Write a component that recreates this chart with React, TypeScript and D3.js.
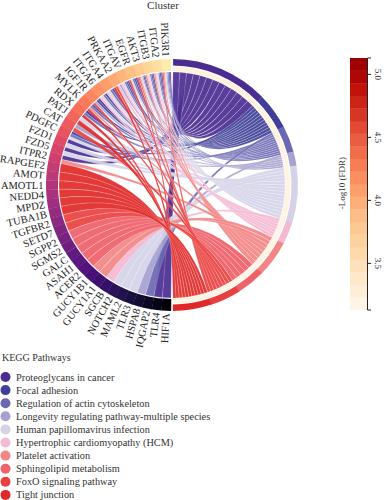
import React, { useEffect, useRef } from 'react';
import * as d3 from 'd3';

// genes, top of the circle going down the left side
const genes = [
  'PIK3R1', 'ITGA2', 'ITGB3', 'AKT3', 'EGFR', 'ITGAV', 'PRKAA2', 'ITGA4', 'ITGA6', 'IGF1R',
  'MYLK', 'RDX', 'PATJ', 'CAT', 'PDGFC', 'FZD1', 'FZD5', 'ITPR2', 'RAPGEF2', 'AMOT',
  'AMOTL1', 'NEDD4', 'MPDZ', 'TUBA1B', 'TGFBR2', 'SETD7', 'SGPP2', 'SGMS2', 'GALC', 'ASAH1',
  'ACER2', 'GUCY1B1', 'GUCY1A1', 'SGCB', 'NOTCH2', 'MAML2', 'TLR3', 'HSPA8', 'IQGAP2', 'TLR4',
  'HIF1A',
];

const pathways = [
  'Proteoglycans in cancer',
  'Focal adhesion',
  'Regulation of actin cytoskeleton',
  'Longevity regulating pathway-multiple species',
  'Human papillomavirus infection',
  'Hypertrophic cardiomyopathy (HCM)',
  'Platelet activation',
  'Sphingolipid metabolism',
  'FoxO signaling pathway',
  'Tight junction',
];

const pathwayColors = [
  '#4b2c91', '#3f3f99', '#6b68b3', '#a6a1cf', '#d5d2e8',
  '#f4b9d3', '#f28585', '#ef6068', '#e9403f', '#e02828',
];

// relative size of each pathway's arc on the right half
const pathwayWeight = [24, 9, 6.5, 3.5, 14, 5.5, 9, 7, 7.5, 9.5];

const pathwayFdr = [3.24, 3.21, 3.19, 3.18, 3.2, 3.17, 3.19, 3.16, 3.18, 3.2];

// which pathways (index into pathways) each gene belongs to
const geneLinks = [
  [0, 1, 2, 3, 4, 6, 8], [0, 1, 2, 4, 5, 6], [0, 1, 2, 4, 5, 6], [0, 1, 3, 4, 6, 8, 9],
  [0, 1, 2, 4, 8], [0, 1, 2, 4, 5], [3, 5, 8, 9], [1, 2, 4, 5], [1, 2, 4, 5], [0, 1, 3, 8],
  [1, 2, 6, 9], [0, 2, 9], [4, 9], [3, 8], [1, 2, 4], [0, 4], [0, 4], [0, 6], [9], [9],
  [9], [9], [9], [9], [8], [8], [7], [7], [7], [7],
  [7], [6], [6], [5], [4], [4], [4], [3], [2], [0],
  [0],
];

const fdrTicks = [3.5, 4.0, 4.5, 5.0];
const fdrDomain = [3.13, 5.13];

const W = 387;
const H = 500;
const cx = 172;
const cy = 185;
const rOut = 126;
const rGeneIn = 114;
const rBandIn = 119.5;
const rCreamOut = 118.5;
const rCreamIn = 113.5;
const rRib = 113;
const FONT = "'Liberation Serif', 'Times New Roman', serif";

const fdrColor = (v: number) =>
  d3.interpolateOrRd(Math.max(0, Math.min(1, (v - fdrDomain[0]) / (fdrDomain[1] - fdrDomain[0]))) * 0.95);

export default function App() {
  const ref = useRef<SVGSVGElement>(null);

  useEffect(() => {
    const svg = d3.select(ref.current);
    svg.selectAll('*').remove();

    const gap = (0.5 * Math.PI) / 180;
    const gs = (Math.PI - 2 * gap) / genes.length;

    // link counts and arc sizes per pathway
    const counts = pathways.map((_, j) => geneLinks.filter(l => l.includes(j)).length);
    const unit = (Math.PI - 2 * gap) / d3.sum(pathwayWeight);
    const termStart: number[] = [];
    let acc = gap;
    pathwayWeight.forEach((w, j) => {
      termStart[j] = acc;
      acc += w * unit;
    });

    // gene side ends
    const links: any[] = [];
    genes.forEach((g, i) => {
      const a1 = 2 * Math.PI - gap - i * gs;
      const lw = gs / geneLinks[i].length;
      geneLinks[i].forEach((j, k) => {
        const e = a1 - k * lw;
        links.push({
          gene: i,
          term: j,
          source: { startAngle: e - lw, endAngle: e, radius: rRib },
        });
      });
    });
    // pathway side ends: bottom genes first
    pathways.forEach((p, j) => {
      const tw = (pathwayWeight[j] * unit) / counts[j];
      links
        .filter(l => l.term === j)
        .sort((a, b) => b.gene - a.gene)
        .forEach((l, k) => {
          const ts = termStart[j] + k * tw;
          l.target = { startAngle: ts, endAngle: ts + tw, radius: rRib };
        });
    });

    const g = svg.append('g').attr('transform', `translate(${cx},${cy})`);
    const ribbon = d3.ribbon<any, any>();
    const sorted = links.slice().sort((a, b) => a.term - b.term);
    g.selectAll('path.rib')
      .data(sorted)
      .join('path')
      .attr('class', 'rib')
      .attr('d', d => ribbon(d) as any)
      .attr('fill', d => pathwayColors[d.term])
      .attr('fill-opacity', 0.92)
      .attr('stroke', '#fff')
      .attr('stroke-width', 0.2);

    // gene ring
    const arc = d3.arc<any>();
    genes.forEach((name, i) => {
      const a1 = 2 * Math.PI - gap - i * gs;
      g.append('path')
        .attr('d', arc({ innerRadius: rGeneIn, outerRadius: rOut, startAngle: a1 - gs - 0.002, endAngle: a1 }) as string)
        .attr('fill', d3.interpolateMagma(0.96 - (i / (genes.length - 1)) * 0.94));
      const mid = a1 - gs / 2;
      const rl = 128.5;
      const x = rl * Math.sin(mid);
      const y = -rl * Math.cos(mid);
      const rot = (mid * 180) / Math.PI - 270;
      g.append('text')
        .attr('transform', `translate(${x},${y}) rotate(${rot})`)
        .attr('text-anchor', 'end')
        .attr('dominant-baseline', 'central')
        .attr('font-family', FONT)
        .attr('font-size', 10.5)
        .attr('fill', '#222')
        .text(name);
    });

    // pathway bands
    pathways.forEach((p, j) => {
      const s = termStart[j];
      const e = s + pathwayWeight[j] * unit;
      g.append('path')
        .attr('d', arc({ innerRadius: rBandIn, outerRadius: rOut, startAngle: s, endAngle: e + 0.002 }) as string)
        .attr('fill', pathwayColors[j]);
      g.append('path')
        .attr('d', arc({ innerRadius: rCreamIn, outerRadius: rCreamOut, startAngle: s, endAngle: e + 0.002 }) as string)
        .attr('fill', fdrColor(pathwayFdr[j]));
    });

    // title
    svg.append('text')
      .attr('x', 163)
      .attr('y', 9)
      .attr('text-anchor', 'middle')
      .attr('font-family', FONT)
      .attr('font-size', 11)
      .attr('fill', '#333')
      .text('Cluster');

    // colour bar
    const yScale = d3.scaleLinear().domain(fdrDomain).range([310, 58]);
    const steps = d3.range(20).map(k => fdrDomain[0] + k * 0.1);
    svg.append('g')
      .selectAll('rect')
      .data(steps)
      .join('rect')
      .attr('x', 350)
      .attr('width', 17)
      .attr('y', d => yScale(d + 0.1))
      .attr('height', d => yScale(d) - yScale(d + 0.1) + 0.3)
      .attr('fill', d => fdrColor(d + 0.05));

    const ax = svg.append('g').attr('stroke', '#222').attr('stroke-width', 1);
    ax.append('line').attr('x1', 367.5).attr('x2', 367.5).attr('y1', yScale(fdrDomain[0])).attr('y2', yScale(fdrDomain[1]));
    [...fdrTicks, ...fdrDomain].forEach(v => {
      ax.append('line').attr('x1', 367.5).attr('x2', 371).attr('y1', yScale(v)).attr('y2', yScale(v));
    });
    fdrTicks.forEach(v => {
      svg.append('text')
        .attr('transform', `translate(378,${yScale(v)}) rotate(90)`)
        .attr('text-anchor', 'middle')
        .attr('dominant-baseline', 'central')
        .attr('font-family', FONT)
        .attr('font-size', 9)
        .attr('fill', '#333')
        .text(d3.format('.1f')(v));
    });
    svg.append('text')
      .attr('transform', `translate(342,183) rotate(-90)`)
      .attr('text-anchor', 'middle')
      .attr('dominant-baseline', 'central')
      .attr('font-family', FONT)
      .attr('font-size', 9)
      .attr('fill', '#333')
      .text('-Log10 (FDR)');

    // legend
    svg.append('text')
      .attr('x', 2)
      .attr('y', 361)
      .attr('font-family', FONT)
      .attr('font-size', 10)
      .attr('fill', '#333')
      .text('KEGG Pathways');
    const lg = svg.append('g')
      .selectAll('g')
      .data(pathways)
      .join('g')
      .attr('transform', (d, k) => `translate(0,${377 + k * 13.1})`);
    lg.append('circle').attr('cx', 5.5).attr('cy', 0).attr('r', 5).attr('fill', (d, k) => pathwayColors[k]);
    lg.append('text')
      .attr('x', 16)
      .attr('y', 0)
      .attr('dominant-baseline', 'central')
      .attr('font-family', FONT)
      .attr('font-size', 10.3)
      .attr('fill', '#333')
      .text(d => d);
  }, []);

  return <svg ref={ref} width={W} height={H} style={{ position: 'absolute', left: 0, top: 0 }} />;
}
